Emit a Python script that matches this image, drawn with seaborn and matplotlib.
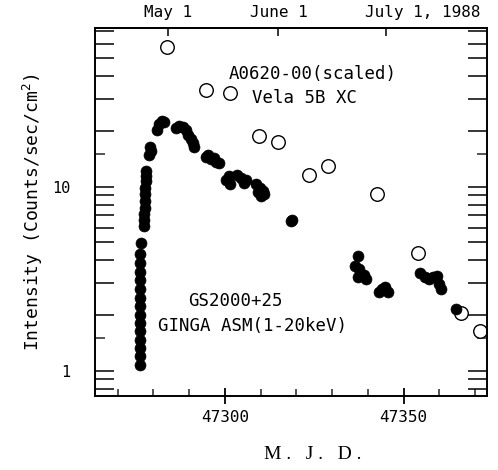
import numpy as np
import pandas as pd
import matplotlib
matplotlib.use("Agg")
import matplotlib.pyplot as plt
import matplotlib.ticker as mticker
import matplotlib.transforms as mtrans
import seaborn as sns

# ---------------- data ----------------
ginga_mjd = [
    47276.2, 47276.2, 47276.2, 47276.3, 47276.3, 47276.3, 47276.3, 47276.3,
    47276.3, 47276.4, 47276.4, 47276.4, 47276.4, 47276.4, 47276.5,
    47277.4, 47277.5, 47277.5, 47277.6, 47277.7, 47277.7, 47277.8, 47277.9,
    47278.0, 47278.0,
    47278.8, 47279.3, 47279.0,
    47281.0, 47281.6, 47282.4, 47283.0,
    47286.3, 47287.2, 47288.3, 47289.1, 47289.7, 47290.5, 47291.1, 47291.3,
    47294.7, 47295.3, 47296.1, 47296.9, 47297.5, 47298.3,
    47300.3, 47301.1, 47301.4, 47303.4, 47304.5, 47305.3, 47305.9,
    47308.7, 47309.2, 47309.8, 47310.6, 47310.1, 47310.9,
    47318.4, 47318.9,
    47337.2, 47336.3, 47337.4, 47337.2, 47338.8, 47339.4,
    47343.0, 47343.9, 47344.7, 47345.5,
    47354.7, 47355.9, 47357.0, 47358.1, 47359.2, 47359.8, 47360.3,
    47364.5,
]
ginga_flux = [
    1.08, 1.2, 1.33, 1.48, 1.64, 1.82, 2.02, 2.25,
    2.5, 2.78, 3.1, 3.45, 3.85, 4.3, 4.95,
    6.1, 6.6, 7.1, 7.7, 8.4, 9.1, 9.9, 10.7,
    11.5, 12.2,
    14.9, 15.6, 16.5,
    20.4, 22.0, 22.8, 22.6,
    20.9, 21.4, 21.2, 20.4, 19.2, 18.2, 17.4, 16.5,
    14.6, 14.9, 14.2, 14.4, 13.7, 13.5,
    10.9, 11.5, 10.4, 11.6, 11.2, 10.5, 10.9,
    10.3, 9.4, 9.9, 9.5, 8.9, 9.2,
    6.5, 6.6,
    4.22, 3.72, 3.58, 3.24, 3.32, 3.16,
    2.69, 2.79, 2.86, 2.69,
    3.41, 3.24, 3.16, 3.24, 3.28, 2.97, 2.79,
    2.17,
]

vela_mjd = [47283.8, 47294.7, 47301.4, 47309.5, 47314.8, 47323.5, 47328.8,
            47342.5, 47353.9, 47365.9, 47371.3]
vela_flux = [57.7, 33.7, 32.4, 18.9, 17.6, 11.6, 13.0, 9.16, 4.38, 2.07, 1.64]

top_tick_mjd = [47284, 47315, 47345]
top_tick_labels = ["May 1", "June 1", "July 1, 1988"]

ginga_df = pd.DataFrame({"mjd": ginga_mjd, "flux": ginga_flux})
vela_df = pd.DataFrame({"mjd": vela_mjd, "flux": vela_flux})

# ---------------- style ----------------
sns.set_theme(style="ticks")
mono = ["DejaVu Sans Mono", "DejaVu Sans"]
plt.rcParams["font.family"] = mono
plt.rcParams["mathtext.fontset"] = "custom"
plt.rcParams["mathtext.rm"] = "DejaVu Sans Mono"
plt.rcParams["mathtext.it"] = "DejaVu Sans Mono"

fig = plt.figure(figsize=(4.98, 4.70), dpi=100)
ax = fig.add_axes([95 / 498, 1 - 396 / 470, (487 - 95) / 498, (396 - 28) / 470])

sns.scatterplot(data=vela_df, x="mjd", y="flux", ax=ax, marker="o", s=95,
                facecolor="white", edgecolor="black", linewidth=1.0, zorder=2)
sns.scatterplot(data=ginga_df, x="mjd", y="flux", ax=ax, marker="o", s=62,
                color="black", edgecolor="black", linewidth=0.5, zorder=3)

ax.set_yscale("log")
ax.set_xlim(47263.7, 47373.3)
ax.set_ylim(0.73, 73)

for sp in ax.spines.values():
    sp.set_visible(True)
    sp.set_linewidth(1.4)
    sp.set_color("black")

# x ticks
ax.xaxis.set_major_locator(mticker.FixedLocator([47300, 47350]))
ax.xaxis.set_minor_locator(mticker.FixedLocator(list(range(47270, 47371, 10))))
ax.tick_params(axis="x", which="major", direction="inout", length=12, width=1.3,
               labelsize=11.5, pad=4, colors="black", bottom=True, top=False)
ax.tick_params(axis="x", which="minor", direction="in", length=5, width=1.1,
               bottom=True, top=False)

# y ticks
long_ticks = [0.8, 0.9, 1, 2, 3, 4, 5, 6, 7, 8, 9, 10, 20, 30, 40, 50, 60, 70]
ax.yaxis.set_major_locator(mticker.FixedLocator(long_ticks))
ax.yaxis.set_major_formatter(mticker.FuncFormatter(
    lambda v, p: "1" if abs(v - 1) < 1e-9 else ("10" if abs(v - 10) < 1e-9 else "")))
ax.yaxis.set_minor_locator(mticker.FixedLocator([1.5, 15]))
ax.yaxis.set_minor_formatter(mticker.NullFormatter())
ax.tick_params(axis="y", which="major", direction="in", length=14, width=1.1,
               labelsize=11, pad=18, colors="black", left=True, right=True)
ax.tick_params(axis="y", which="minor", direction="in", length=7, width=1.1,
               left=True, right=True)

# top date axis
top = ax.secondary_xaxis("top")
top.xaxis.set_major_locator(mticker.FixedLocator(top_tick_mjd))
top.xaxis.set_major_formatter(mticker.FixedFormatter(top_tick_labels))
top.xaxis.set_minor_locator(mticker.NullLocator())
top.tick_params(axis="x", direction="in", length=6, width=1.1, labelsize=11.5, pad=6,
                colors="black")
top.spines["top"].set_linewidth(1.4)
fig.canvas.draw()
lbl = top.xaxis.get_majorticklabels()[2]
lbl.set_ha("left")
lbl.set_transform(lbl.get_transform() +
                  mtrans.ScaledTranslation(-21 / 100, 0, fig.dpi_scale_trans))

ax.set_xlabel("M .   J .   D .", family=["Liberation Serif", "DejaVu Serif"],
              fontsize=14, color="black")
ax.xaxis.set_label_coords(0.556, -0.136)
ax.set_ylabel("Intensity (Counts/sec/cm$^{2}$)", fontsize=13, color="black")
ax.yaxis.set_label_coords(-0.128, 0.5)

ax.text(0.34, 0.874, "A0620-00(scaled)", transform=ax.transAxes, fontsize=12.5,
        ha="left", va="center", color="black")
ax.text(0.40, 0.81, "Vela 5B XC", transform=ax.transAxes, fontsize=12.5,
        ha="left", va="center", color="black")
ax.text(0.237, 0.258, "GS2000+25", transform=ax.transAxes, fontsize=12.5,
        ha="left", va="center", color="black")
ax.text(0.16, 0.19, "GINGA ASM(1-20keV)", transform=ax.transAxes, fontsize=12.5,
        ha="left", va="center", color="black")

fig.savefig("out.png", dpi=100)
